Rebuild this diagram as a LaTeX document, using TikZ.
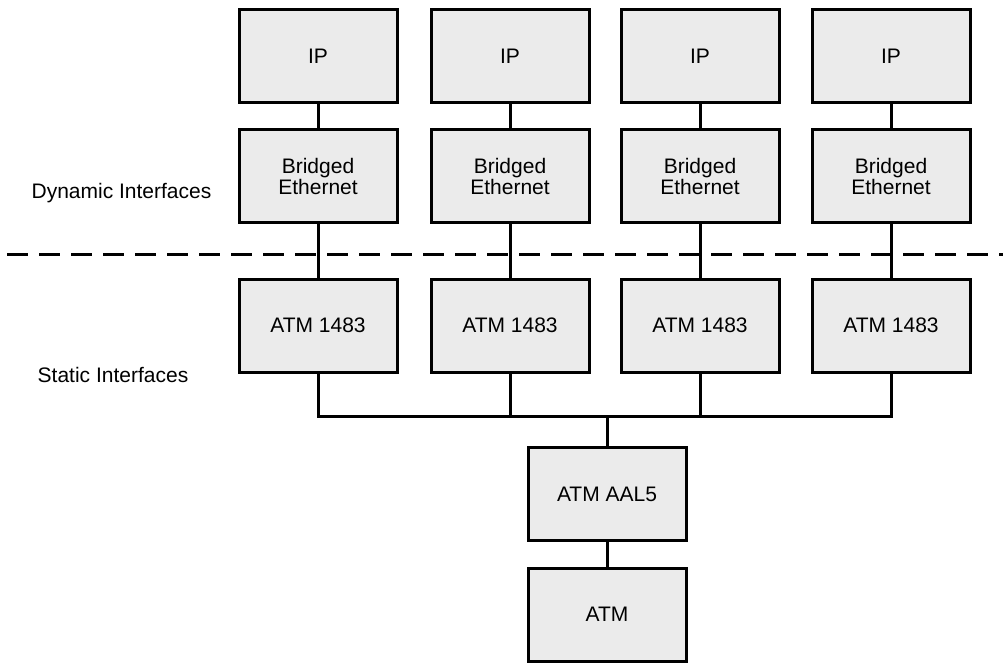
\documentclass[tikz,border=0pt]{standalone}
\usepackage{fontspec}
\setmainfont{Liberation Sans}
\begin{document}
\begin{tikzpicture}[x=1pt,y=-1pt,
  layer/.style={draw=black, line width=3pt, fill=boxgray, minimum width=158pt, minimum height=93pt,
    inner sep=0pt, align=center, font=\fontsize{21}{21}\selectfont},
  conn/.style={line width=3pt},
  lbl/.style={font=\fontsize{21}{24}\selectfont, inner sep=0pt}]
\definecolor{boxgray}{RGB}{235,235,235}
\useasboundingbox (0,0) rectangle (1003,663);
% dashed separator
\draw[line width=3pt, dash pattern=on 21pt off 11pt] (7,254) -- (1003,254);
% columns
\foreach \i/\x in {1/318,2/510,3/700,4/891}{
  \node[layer] (ip\i) at (\x,56) {IP};
  \node[layer] (be\i) at (\x,176) {Bridged\\Ethernet};
  \node[layer] (at\i) at (\x,325.5) {ATM 1483};
  \draw[conn] (ip\i) -- (be\i);
  \draw[conn] (be\i) -- (at\i);
}
\node[layer] (aal) at (607,494) {ATM AAL5};
\node[layer] (atm) at (607,614.5) {ATM};
\coordinate (bus) at (607,416);
\draw[conn] (at1.south) -- (at1.south |- bus) -- (at4.south |- bus) -- (at4.south);
\draw[conn] (at2.south) -- (at2.south |- bus);
\draw[conn] (at3.south) -- (at3.south |- bus);
\draw[conn] (bus) -- (aal);
\draw[conn] (aal) -- (atm);
\node[lbl] (dyn) at (121.5,193) {Dynamic Interfaces};
\node[lbl] (sta) at (113,375) {Static Interfaces};
\end{tikzpicture}
\end{document}
